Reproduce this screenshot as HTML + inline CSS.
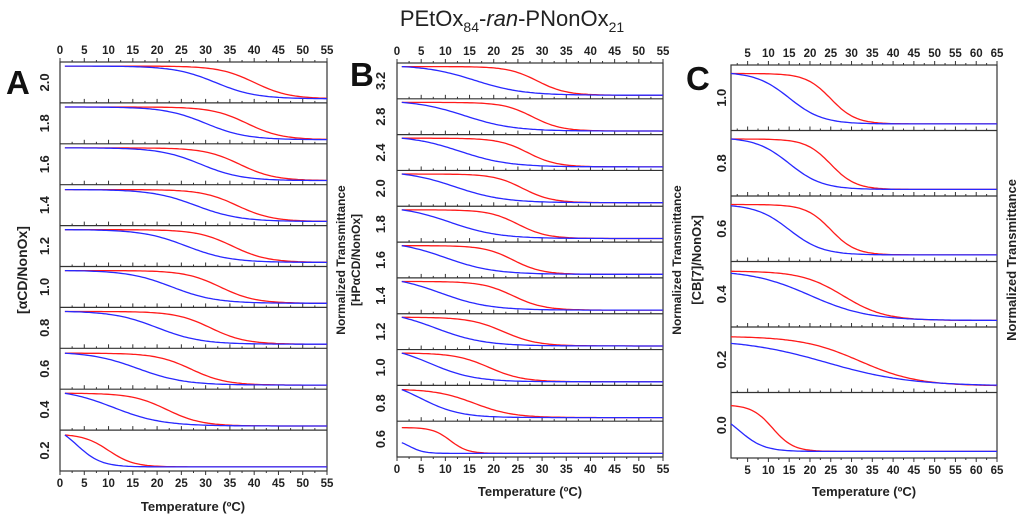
<!DOCTYPE html>
<html><head><meta charset="utf-8"><style>
html,body{margin:0;padding:0;background:#fff;}
svg{display:block;font-family:"Liberation Sans",Arial,sans-serif;}
</style></head><body>
<svg id="fig" width="1024" height="522" viewBox="0 0 1024 522">
<text x="512" y="26" text-anchor="middle" font-size="22" fill="#222">PEtOx<tspan font-size="14" dy="6">84</tspan><tspan dy="-6">-</tspan><tspan font-style="italic">ran</tspan>-PNonOx<tspan font-size="14" dy="6">21</tspan></text>
</svg>
<script>
// Panel A: [αCD/NonOx]
const aLabels=["2.0","1.8","1.6","1.4","1.2","1.0","0.8","0.6","0.4","0.2"];
const aRedTm=[40,38.5,37,36.5,35.5,33,31,27,22,10];
const aRedW=[3.6,3.6,3.6,3.6,3.6,3.6,3.6,3.6,3.6,2.6];
const aBlueTm=[32,30,29,28,26,23,20,16,11,3.5];
const aBlueW=[4.2,4.2,4.2,4.5,4.5,4.5,4.5,4.8,5,2.5];
const aRedStart=[0.1,0.1,0.1,0.12,0.1,0.1,0.1,0.12,0.1,0.12];
const aBlueStart=[0.1,0.1,0.1,0.12,0.1,0.1,0.1,0.12,0.1,0.12];
// Panel B: [HPαCD/NonOx]
const bLabels=["3.2","2.8","2.4","2.0","1.8","1.6","1.4","1.2","1.0","0.8","0.6"];
const bRedTm=[29,28,27,26,25,24,24,22,19,16,11];
const bRedW=[3,3,3,3,3,3,3.2,3.5,3.5,4,1.8];
const bBlueTm=[16,14,13,12,11,10,9,8,7,5,2.5];
const bBlueW=[5,5,5,5,5,5,5,5,4.5,4,1.5];
const bRedStart=[0.1,0.1,0.1,0.1,0.1,0.1,0.1,0.1,0.1,0.12,0.18];
const bBlueStart=[0.1,0.1,0.1,0.1,0.1,0.1,0.1,0.1,0.1,0.12,0.6];
// Panel C: [CB[7]/NonOx]
const cLabels=["1.0","0.8","0.6","0.4","0.2","0.0"];
const cRedTm=[25,25,25,28,32,11];
const cRedW=[3,3,3,5,7,2.5];
const cBlueTm=[15,15,15,20,24,3];
const cBlueW=[4,4,4,7,10,3];
const cRedStart=[0.13,0.13,0.13,0.15,0.15,0.2];
const cBlueStart=[0.13,0.13,0.15,0.18,0.25,0.48];

const NS="http://www.w3.org/2000/svg";
const svg=document.getElementById("fig");
function mk(tag,attrs,parent){const e=document.createElementNS(NS,tag);for(const k in attrs)e.setAttribute(k,attrs[k]);(parent||svg).appendChild(e);return e;}
function L(T,tm,w){return 1/(1+Math.exp((T-tm)/w));}

function panel(cfg){
  const g=mk("g",{});
  
  
  const n=cfg.labels.length, h=(cfg.y1-cfg.y0)/n;
  const xs=t=>cfg.x0+(t-cfg.d0)/(cfg.d1-cfg.d0)*(cfg.x1-cfg.x0);
  const box=mk("rect",{x:cfg.x0,y:cfg.y0,width:cfg.x1-cfg.x0,height:cfg.y1-cfg.y0,fill:"none",stroke:"#333","stroke-width":1.2},g);
  
  
  const majors=[];for(let t=cfg.tickStart;t<=cfg.d1+0.01;t+=5)majors.push(t);
  const minors=[];for(let t=cfg.tickStart+2.5;t<cfg.d1;t+=5)minors.push(t);
  if(cfg.tickStart-2.5>cfg.d0)minors.push(cfg.tickStart-2.5);
  const ax=mk("g",{},g);
  
  
  majors.forEach(t=>{
    mk("line",{x1:xs(t),x2:xs(t),y1:cfg.y0,y2:cfg.y0-4,stroke:"#333"},ax);
    mk("line",{x1:xs(t),x2:xs(t),y1:cfg.y1,y2:cfg.y1+4,stroke:"#333"},ax);
    const tt=mk("text",{x:xs(t),y:cfg.y0-8,"text-anchor":"middle","font-size":11.5,"font-weight":"bold",fill:"#222"},ax);tt.textContent=t;
    
    
    const tb=mk("text",{x:xs(t),y:cfg.y1+16,"text-anchor":"middle","font-size":11.5,"font-weight":"bold",fill:"#222"},ax);tb.textContent=t;
    
    
  });
  minors.forEach(t=>{
    mk("line",{x1:xs(t),x2:xs(t),y1:cfg.y0,y2:cfg.y0-2,stroke:"#333"},ax);
    mk("line",{x1:xs(t),x2:xs(t),y1:cfg.y1,y2:cfg.y1+2,stroke:"#333"},ax);
  });
  for(let i=0;i<n;i++){
    const top=cfg.y0+i*h, bot=top+h;
    const sg=mk("g",{},g);
    
    
    if(i>0)mk("line",{x1:cfg.x0,x2:cfg.x1,y1:top,y2:top,stroke:"#333","stroke-width":1.2},sg);
    if(i<n-1){
      majors.forEach(t=>mk("line",{x1:xs(t),x2:xs(t),y1:bot,y2:bot-4,stroke:"#333"},sg));
      minors.forEach(t=>mk("line",{x1:xs(t),x2:xs(t),y1:bot,y2:bot-2,stroke:"#333"},sg));
    }
    const lb=mk("text",{transform:`translate(${cfg.labelX},${top+h/2}) rotate(-90)`,"text-anchor":"middle","font-size":13,"font-weight":"bold",fill:"#222"},sg);
    lb.textContent=cfg.labels[i];
    
    
    const base=0.9;
    [["red",cfg.redTm,cfg.redW,cfg.redStart,"#ff1a1a"],["blue",cfg.blueTm,cfg.blueW,cfg.blueStart,"#2828ff"]].forEach(s=>{
      const tm=s[1][i],w=s[2][i],st=s[3][i];
      const l0=L(cfg.t0,tm,w);
      let d="";
      for(let T=cfg.t0;T<=cfg.d1+0.001;T+=0.5){
        const f=L(T,tm,w)/l0;
        const y=top+h*(base-(base-st)*f);
        d+=(d?"L":"M")+xs(T).toFixed(1)+","+y.toFixed(1);
      }
      const p=mk("path",{d:d,fill:"none",stroke:s[4],"stroke-width":1.3},sg);
      
      
    });
  }
}

panel({name:"panel-a",labels:aLabels,redTm:aRedTm,redW:aRedW,blueTm:aBlueTm,blueW:aBlueW,redStart:aRedStart,blueStart:aBlueStart,
  x0:60,x1:327,y0:62,y1:471,d0:0,d1:55,t0:1,tickStart:0,labelX:49});
panel({name:"panel-b",labels:bLabels,redTm:bRedTm,redW:bRedW,blueTm:bBlueTm,blueW:bBlueW,redStart:bRedStart,blueStart:bBlueStart,
  x0:397,x1:663,y0:63,y1:457,d0:0,d1:55,t0:1,tickStart:0,labelX:385});
panel({name:"panel-c",labels:cLabels,redTm:cRedTm,redW:cRedW,blueTm:cBlueTm,blueW:cBlueW,redStart:cRedStart,blueStart:cBlueStart,
  x0:731,x1:997,y0:65,y1:458,d0:1,d1:65,t0:1,tickStart:5,labelX:726});

function txt(s,attrs,name){const t=mk("text",attrs);t.textContent=s;return t;}
txt("A",{x:6,y:94,"font-size":33,"font-weight":"bold",fill:"#111"},"panel-a-letter");
txt("B",{x:350,y:86,"font-size":33,"font-weight":"bold",fill:"#111"},"panel-b-letter");
txt("C",{x:686,y:90,"font-size":33,"font-weight":"bold",fill:"#111"},"panel-c-letter");
txt("[αCD/NonOx]",{transform:"translate(27,270) rotate(-90)","text-anchor":"middle","font-size":14,"font-weight":"bold",fill:"#222"},"panel-a-y-title");
txt("Normalized Transmittance",{transform:"translate(345,260) rotate(-90)","text-anchor":"middle","font-size":12,"font-weight":"bold",fill:"#222"},"panel-b-y-title");
txt("[HPαCD/NonOx]",{transform:"translate(360,260) rotate(-90)","text-anchor":"middle","font-size":12,"font-weight":"bold",fill:"#222"},"panel-b-group-title");
txt("Normalized Transmittance",{transform:"translate(681,260) rotate(-90)","text-anchor":"middle","font-size":12,"font-weight":"bold",fill:"#222"},"panel-c-y-title");
txt("[CB[7]/NonOx]",{transform:"translate(701,260) rotate(-90)","text-anchor":"middle","font-size":13,"font-weight":"bold",fill:"#222"},"panel-c-group-title");
txt("Normalized Transmittance",{transform:"translate(1016,260) rotate(-90)","text-anchor":"middle","font-size":13,"font-weight":"bold",fill:"#222"},"right-y-title");
txt("Temperature (ºC)",{x:193,y:511,"text-anchor":"middle","font-size":13,"font-weight":"bold",fill:"#222"},"panel-a-x-title");
txt("Temperature (ºC)",{x:530,y:496,"text-anchor":"middle","font-size":13,"font-weight":"bold",fill:"#222"},"panel-b-x-title");
txt("Temperature (ºC)",{x:864,y:496,"text-anchor":"middle","font-size":13,"font-weight":"bold",fill:"#222"},"panel-c-x-title");
</script>
</body></html>
